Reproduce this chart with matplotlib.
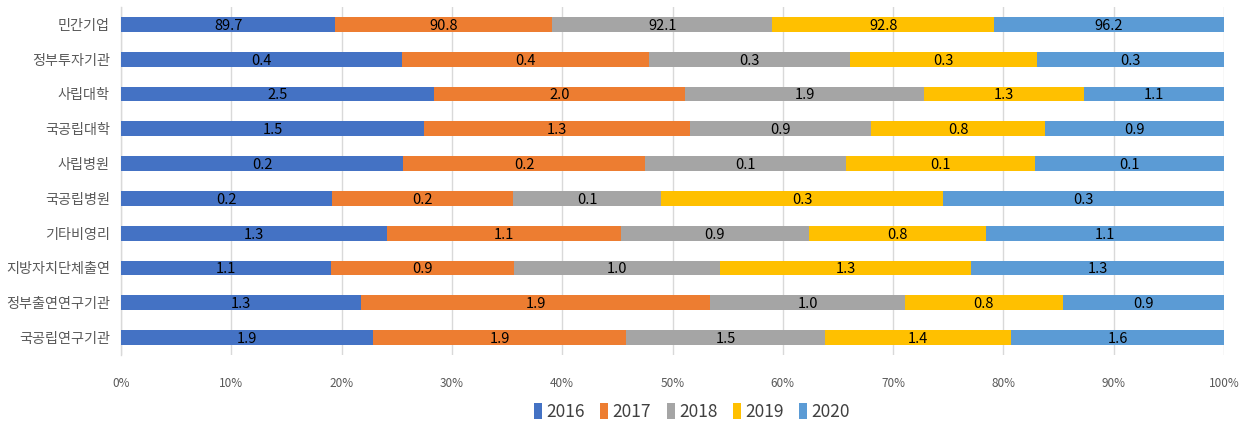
import matplotlib
matplotlib.use("Agg")
import matplotlib.pyplot as plt
from matplotlib.patches import Patch
import numpy as np

plt.rcParams['font.family'] = ['Noto Sans CJK KR', 'DejaVu Sans']

# -------------------------
# Data (top row first)
# -------------------------
categories = ["민간기업", "정부투자기관", "사립대학", "국공립대학", "사립병원",
              "국공립병원", "기타비영리", "지방자치단체출연", "정부출연연구기관", "국공립연구기관"]
years = ["2016", "2017", "2018", "2019", "2020"]

v2016 = [89.7, 0.42, 2.50, 1.46, 0.200, 0.21, 1.26, 1.06, 1.28, 1.9]
v2017 = [90.8, 0.37, 2.00, 1.28, 0.171, 0.18, 1.11, 0.93, 1.86, 1.9]
v2018 = [92.1, 0.30, 1.91, 0.87, 0.142, 0.148, 0.89, 1.04, 1.04, 1.5]
v2019 = [92.8, 0.28, 1.27, 0.84, 0.134, 0.28, 0.84, 1.27, 0.84, 1.4]
v2020 = [96.2, 0.28, 1.12, 0.86, 0.134, 0.28, 1.13, 1.28, 0.86, 1.6]

colors = ["#4472C4", "#ED7D31", "#A5A5A5", "#FFC000", "#5B9BD5"]

series = np.array([v2016, v2017, v2018, v2019, v2020], dtype=float)
totals = series.sum(axis=0)
shares = series / totals * 100.0

fig = plt.figure(figsize=(12.5, 4.26), dpi=100)
ax = fig.add_axes([121 / 1250, 1 - 355 / 426, (1224 - 121) / 1250, 348 / 426])

y = np.arange(len(categories))
left = np.zeros(len(categories))
for i, yr in enumerate(years):
    ax.barh(y, shares[i], left=left, height=0.43, color=colors[i], label=yr, zorder=3)
    for j in range(len(categories)):
        ax.text(left[j] + shares[i][j] / 2, y[j] + 0.04, f"{series[i][j]:.1f}",
                ha="center", va="center", fontsize=10.5, color="black",
                fontstretch="condensed", zorder=4)
    left += shares[i]

ax.set_xlim(0, 100)
ax.set_ylim(len(categories) - 0.5, -0.5)
ax.set_xticks(np.arange(0, 101, 10))
ax.set_xticklabels([f"{t}%" for t in range(0, 101, 10)])
ax.set_yticks(y)
ax.set_yticklabels(categories)
ax.tick_params(axis="x", length=0, pad=16, labelsize=8.5, labelcolor="#595959")
ax.tick_params(axis="y", length=0, pad=8, labelsize=10.2, labelcolor="#595959")

ax.grid(axis="x", color="#D9D9D9", linewidth=1, zorder=0)
for s in ["top", "right", "bottom"]:
    ax.spines[s].set_visible(False)
ax.spines["left"].set_color("#D9D9D9")
ax.spines["left"].set_linewidth(1)

handles = [Patch(facecolor=c, edgecolor="none") for c in colors]
fig.legend(handles, years, loc="center", bbox_to_anchor=(692 / 1250, 1 - 412 / 426),
           ncol=5, frameon=False, fontsize=12.5, handlelength=0.45, handleheight=1.0,
           handletextpad=0.25, columnspacing=0.9, labelcolor="#404040")

fig.savefig("out.png", dpi=100)
